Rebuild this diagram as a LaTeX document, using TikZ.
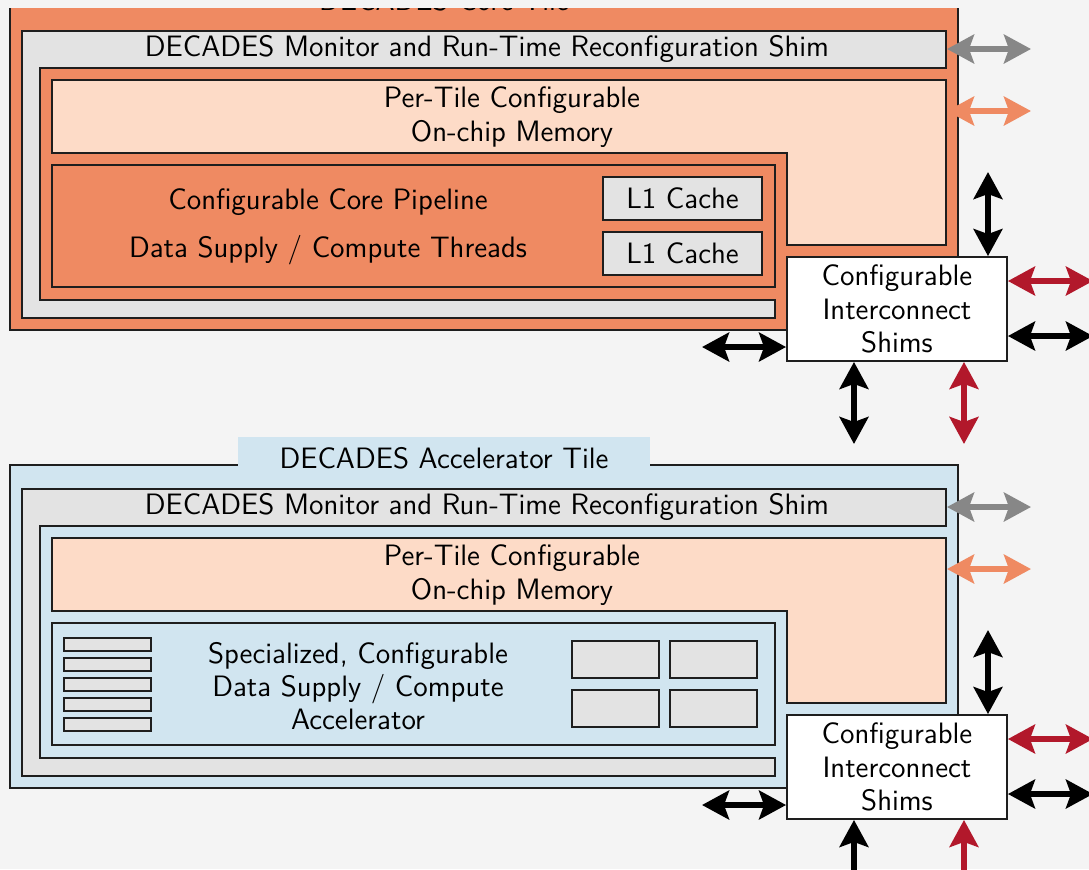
\documentclass[tikz,border=0pt]{standalone}
\usetikzlibrary{arrows.meta}

\definecolor{tileorange}{HTML}{EF8A62}
\definecolor{mempeach}{HTML}{FDDBC7}
\definecolor{tileblue}{HTML}{D1E5F0}
\definecolor{shimgray}{HTML}{E3E3E3}
\definecolor{arrgray}{HTML}{878787}
\definecolor{arrred}{HTML}{B2182B}
\definecolor{bggray}{HTML}{F4F4F4}
\definecolor{edge}{HTML}{1E1E1E}

\tikzset{
  frame/.style={draw=edge, line width=0.75pt},
  txt/.style={font=\sffamily\fontsize{11.8}{13.3}\selectfont, align=center, inner sep=0pt},
  box/.style={frame, rectangle, inner sep=0pt, txt},
  link/.style={line width=2.4pt,
    {Stealth[length=10.8pt,width=11.5pt,inset=2pt]}-{Stealth[length=10.8pt,width=11.5pt,inset=2pt]}},
}

\begin{document}
\begin{tikzpicture}[x=0.4pt, y=-0.4pt]
\useasboundingbox (0,0) rectangle (1089,869);
\fill[bggray] (0,0) rectangle (1089,869);
\begin{scope}
\clip (0,8) rectangle (1089,869);

% core tile
\draw[frame, fill=tileorange] (10,7) rectangle (958,330);
\fill[tileorange] (238,-21) rectangle (650,7);
\node[txt] (core-title) at (444,0) {DECADES Core Tile};
\draw[frame, fill=shimgray] (22,31) -- (946,31) -- (946,68) -- (40,68) -- (40,300)
  -- (775,300) -- (775,318) -- (22,318) -- cycle;
\node[txt] (core-montxt) at (487,49) {DECADES Monitor and Run-Time Reconfiguration Shim};
\coordinate (core-mon) at (947,49);
\draw[frame, fill=mempeach] (52,80) -- (946,80) -- (946,245) -- (787,245) -- (787,153)
  -- (52,153) -- cycle;
\node[txt] (core-memtxt) at (512,117) {Per-Tile Configurable\\On-chip Memory};
\coordinate (core-mem) at (947,111);
\draw[frame, fill=tileorange] (52,165) rectangle (775,287);
\node[txt] (core-pipe) at (328,202) {Configurable Core Pipeline};
\node[txt] (core-thr) at (328,250) {Data Supply / Compute Threads};
\node[box, fill=shimgray, minimum width=159*0.4pt, minimum height=43*0.4pt] (core-l1a)
  at (682.5,198.5) {L1 Cache};
\node[box, fill=shimgray, minimum width=159*0.4pt, minimum height=43*0.4pt] (core-l1b)
  at (682.5,253.5) {L1 Cache};
\node[box, fill=white, minimum width=220*0.4pt, minimum height=104*0.4pt] (core-ics)
  at (897,309) {Configurable\\Interconnect\\Shims};

% accelerator tile
\draw[frame, fill=tileblue] (10,465) rectangle (958,788);
\fill[tileblue] (238,437) rectangle (650,466);
\node[txt] (acc-title) at (444,458) {DECADES Accelerator Tile};
\draw[frame, fill=shimgray] (22,489) -- (946,489) -- (946,526) -- (40,526) -- (40,758)
  -- (775,758) -- (775,776) -- (22,776) -- cycle;
\node[txt] (acc-montxt) at (487,507) {DECADES Monitor and Run-Time Reconfiguration Shim};
\coordinate (acc-mon) at (947,507);
\draw[frame, fill=mempeach] (52,538) -- (946,538) -- (946,703) -- (787,703) -- (787,611)
  -- (52,611) -- cycle;
\node[txt] (acc-memtxt) at (512,575) {Per-Tile Configurable\\On-chip Memory};
\coordinate (acc-mem) at (947,569);
\draw[frame, fill=tileblue] (52,623) rectangle (775,745);
\node[txt] (acc-core) at (358,686) {Specialized, Configurable\\Data Supply / Compute\\Accelerator};
\foreach \k in {0,...,4}
  \draw[frame, fill=shimgray] (64,638+20*\k) rectangle (151,651+20*\k);
\draw[frame, fill=shimgray] (572,641) rectangle (659,678);
\draw[frame, fill=shimgray] (670,641) rectangle (757,678);
\draw[frame, fill=shimgray] (572,690) rectangle (659,727);
\draw[frame, fill=shimgray] (670,690) rectangle (757,727);
\node[box, fill=white, minimum width=220*0.4pt, minimum height=104*0.4pt] (acc-ics)
  at (897,767) {Configurable\\Interconnect\\Shims};

% links of both tiles
\foreach \t/\dy in {core/0, acc/458} {
  \coordinate (\t-g) at (1031,49+\dy);
  \coordinate (\t-o) at (1031,111+\dy);
  \coordinate (\t-n) at (988,172+\dy);
  \coordinate (\t-e1) at (1093,281+\dy);
  \coordinate (\t-e2) at (1093,336+\dy);
  \coordinate (\t-w) at (702,347+\dy);
  \coordinate (\t-s1) at (854,444+\dy);
  \coordinate (\t-s2) at (964,444+\dy);
  \draw[link, arrgray] (\t-mon) -- (\t-g);
  \draw[link, tileorange] (\t-mem) -- (\t-o);
  \draw[link] (\t-n) -- (\t-n |- \t-ics.north);
  \draw[link, arrred] (\t-ics.east |- \t-e1) -- (\t-e1);
  \draw[link] (\t-ics.east |- \t-e2) -- (\t-e2);
  \draw[link] (\t-w) -- (\t-w -| \t-ics.west);
  \draw[link] (\t-ics.south -| \t-s1) -- (\t-s1);
  \draw[link, arrred] (\t-ics.south -| \t-s2) -- (\t-s2);
}
\end{scope}
\end{tikzpicture}
\end{document}
